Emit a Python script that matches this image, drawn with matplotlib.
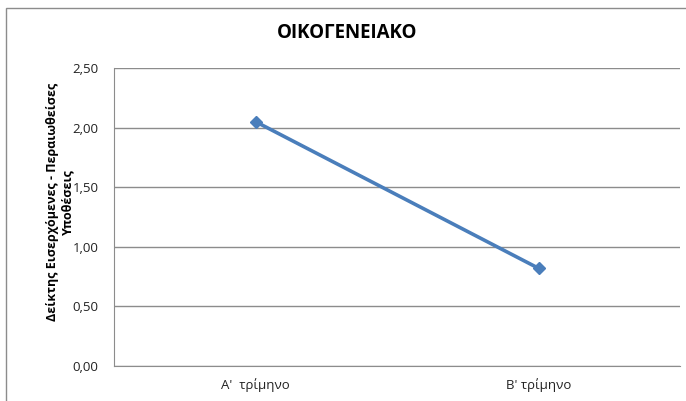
import matplotlib
matplotlib.use("Agg")
import matplotlib.pyplot as plt
from matplotlib.patches import Rectangle

categories = ["Α'  τρίμηνο", "Β' τρίμηνο"]
values = [2.05, 0.82]
yticks = [0.0, 0.5, 1.0, 1.5, 2.0, 2.5]
ytick_labels = ["0,00", "0,50", "1,00", "1,50", "2,00", "2,50"]
title = "ΟΙΚΟΓΕΝΕΙΑΚΟ"
ylabel = "Δείκτης Εισερχόμενες - Περαιωθείσες\nΥποθέσεις"

plt.rcParams['font.family'] = ['Open Sans', 'DejaVu Sans']

W, H = 686, 401
fig = plt.figure(figsize=(W / 100, H / 100), dpi=100)
fig.patch.set_facecolor("white")

# outer chart border (cropped at right/bottom)
fig.add_artist(Rectangle((6 / W, -0.1), 1.2, 1 - 8 / H + 0.1, transform=fig.transFigure,
                         fill=False, edgecolor="#8c8c8c", linewidth=1.0))

ax = fig.add_axes([114 / W, 1 - 366 / H, (680 - 114) / W, (366 - 68) / H])
x = list(range(len(categories)))
ax.plot(x, values, color="#4A7EBB", linewidth=2.6, marker="D", markersize=6.5,
        markerfacecolor="#4A7EBB", markeredgecolor="#4A7EBB", solid_capstyle="round")

ax.set_xlim(-0.5, len(categories) - 0.5)
ax.set_ylim(0, 2.5)
ax.set_yticks(yticks)
ax.set_yticklabels(ytick_labels)
ax.set_xticks(x)
ax.set_xticklabels(categories)
ax.tick_params(axis="both", length=0, labelsize=9.5, colors="#222222")
ax.tick_params(axis="y", pad=11)
ax.tick_params(axis="x", pad=9)
ax.yaxis.grid(True, color="#8c8c8c", linewidth=1.0)
ax.set_axisbelow(True)
for s in ["top", "right"]:
    ax.spines[s].set_visible(False)
ax.spines["left"].set_color("#8c8c8c")
ax.spines["bottom"].set_color("#8c8c8c")

fig.text(60 / W, 1 - 202 / H, ylabel, rotation=90, ha="center", va="center",
         fontsize=9, fontweight="bold", linespacing=1.25, multialignment="center")
fig.text(347 / W, 1 - 33 / H, title, ha="center", va="center", fontsize=13.5, fontweight="bold")

fig.savefig("out.png", dpi=100)
